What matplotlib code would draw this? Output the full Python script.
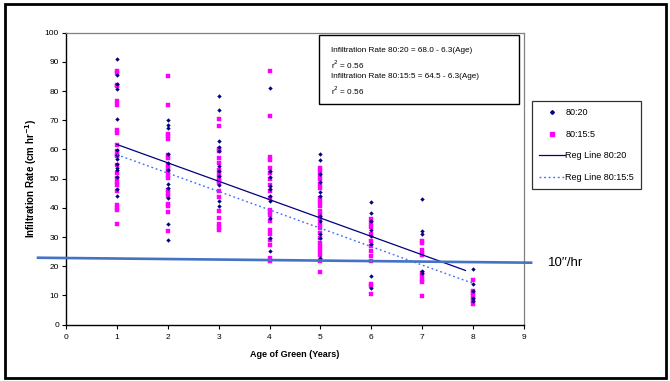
import matplotlib
matplotlib.use("Agg")
import matplotlib.pyplot as plt
from matplotlib.patches import Rectangle
from matplotlib.lines import Line2D
import numpy as np

plt.rcParams['font.family'] = ['Liberation Sans', 'DejaVu Sans']

ages = [1, 2, 3, 4, 5, 6, 7, 8]

# 80:20 observations per age
s8020 = {
    1: [91.1, 85.6, 82.5, 80.8, 70.5, 59.7, 58.2, 56.8, 55.1, 53.6, 52.8, 50.6, 46.6, 44.1],
    2: [69.9, 68.5, 67.4, 58.4, 55.4, 53.0, 48.0, 46.8, 43.4, 34.5, 29.1],
    3: [78.2, 73.6, 63.0, 60.7, 59.4, 54.2, 52.5, 50.8, 47.9, 42.2, 40.5],
    4: [81.0, 52.5, 50.5, 47.4, 46.6, 43.9, 42.5, 36.5, 29.7, 25.1],
    5: [58.4, 56.5, 51.6, 49.0, 45.4, 43.9, 37.1, 35.4, 31.0, 29.7, 22.8],
    6: [41.9, 38.2, 35.4, 32.5, 30.5, 27.7, 16.6, 12.6],
    7: [43.0, 32.0, 31.0, 18.5, 17.7],
    8: [19.2, 13.9, 11.4, 9.1, 8.2],
}
# 80:15:5 observations per age
s80155 = {
    1: [86.8, 86.2, 82.2, 81.6, 76.5, 75.3, 66.8, 65.6, 61.6, 59.4, 58.2, 57.6, 54.8, 52.0, 50.2,
        49.0, 47.9, 45.7, 41.1, 40.0, 39.4, 34.5],
    2: [85.3, 75.1, 65.3, 64.5, 63.7, 58.2, 57.1, 54.6, 53.7, 52.5, 51.4, 50.2, 46.2, 45.1, 43.9,
        41.3, 40.5, 38.6, 32.0],
    3: [70.5, 67.9, 60.3, 59.4, 57.1, 55.4, 53.1, 51.6, 50.2, 49.3, 48.5, 45.9, 43.6, 38.8, 36.5,
        34.5, 33.3, 32.5],
    4: [86.8, 71.3, 57.3, 56.5, 53.7, 52.0, 50.0, 47.9, 45.7, 43.4, 39.4, 38.6, 37.7, 35.4, 32.5,
        31.0, 29.1, 27.4, 22.8, 21.9],
    5: [53.7, 52.5, 51.1, 49.7, 48.2, 46.8, 43.4, 42.0, 40.5, 38.8, 37.4, 36.0, 34.5, 33.1, 31.4,
        29.7, 28.0, 26.5, 25.1, 23.7, 21.7, 18.0],
    6: [36.3, 34.8, 33.3, 31.0, 28.8, 26.8, 25.1, 23.4, 21.7, 13.9, 13.1, 10.6],
    7: [28.8, 28.0, 25.7, 24.5, 23.7, 17.7, 16.6, 15.4, 14.6, 9.7],
    8: [15.4, 11.6, 10.8, 10.0, 9.1, 8.2, 7.1],
}

# regression coefficients (intercept, slope)
reg_8020 = (68.0, -6.3)
reg_80155 = (64.5, -6.3)

# 10"/hr threshold line (x, y)
thr_x = [-0.55, 9.14]
thr_y = [22.9, 21.2]

x_ticks = list(range(0, 10))
y_ticks = list(range(0, 101, 10))

fig = plt.figure(figsize=(6.70, 3.81), dpi=100)
ax = fig.add_axes([66/670, 1 - 324.6/381, (524-66)/670, (324.6-32.6)/381])

navy = '#000080'
magenta = '#FF00FF'
dotblue = '#3d6dff'
dotstyle = (0, (1.3, 2.0))

for a in ages:
    ax.plot([a]*len(s80155[a]), s80155[a], linestyle='none', marker='s', ms=2.3,
            color=magenta, mec=magenta, mew=0.3, zorder=3)
for a in ages:
    ax.plot([a]*len(s8020[a]), s8020[a], linestyle='none', marker='D', ms=1.9,
            color=navy, mec=navy, mew=0.3, zorder=4)

xa = np.array(ages, dtype=float)
xa1 = xa.copy(); xa1[-1] = 7.85
ax.plot(xa1, reg_8020[0] + reg_8020[1]*xa1, color=navy, lw=0.9, zorder=5)
ax.plot(xa, reg_80155[0] + reg_80155[1]*xa, color=dotblue, lw=1.0,
        linestyle=dotstyle, zorder=5)

ax.plot(thr_x, thr_y, color='#4472C4', lw=1.9, clip_on=False, zorder=6)
fig.text(548/670, 1 - 263/381, '10\u2032\u2032/hr', fontsize=9.5, va='center', ha='left')

ax.set_xlim(0, 9)
ax.set_ylim(0, 100)
ax.set_xticks(x_ticks)
ax.set_yticks(y_ticks)
ax.tick_params(axis='both', labelsize=6, length=3, width=0.8, direction='out', pad=2)
ax.tick_params(axis='x', pad=4)
for s in ['top', 'right']:
    ax.spines[s].set_color('#808080')
    ax.spines[s].set_linewidth(0.9)
for s in ['left', 'bottom']:
    ax.spines[s].set_color('black')
    ax.spines[s].set_linewidth(1.0)

ax.set_xlabel('Age of Green (Years)', fontsize=6.5, fontweight='bold', labelpad=6)
ax.set_ylabel('Infiltration Rate (cm hr$^{\\mathbf{-1}}$)', fontsize=7, fontweight='bold', labelpad=4)

# equation box
eq_lines = ['Infiltration Rate 80:20 = 68.0 - 6.3(Age)', 'r$^2$ = 0.56',
            'Infiltration Rate 80:15:5 = 64.5 - 6.3(Age)', 'r$^2$ = 0.56']
fig.patches.append(Rectangle((319/670, 1 - 104/381), 200/670, 69/381, transform=fig.transFigure,
                             facecolor='white', edgecolor='black', lw=1.0, zorder=10))
for ln, yy in zip(eq_lines, [51, 64.5, 77, 90.5]):
    fig.text(331/670, 1 - yy/381, ln, fontsize=5.9, va='center', ha='left', zorder=11)

# legend
handles = [Line2D([], [], linestyle='none', marker='D', ms=1.9, color=navy),
           Line2D([], [], linestyle='none', marker='s', ms=2.3, color=magenta),
           Line2D([], [], color=navy, lw=0.9),
           Line2D([], [], color=dotblue, lw=1.0, linestyle=dotstyle)]
labels = ['80:20', '80:15:5', 'Reg Line 80:20', 'Reg Line 80:15:5']
leg = fig.legend(handles, labels, loc='upper left', bbox_to_anchor=(532/670, 1 - 101/381),
                 bbox_transform=fig.transFigure, fontsize=6.5, frameon=True, fancybox=False,
                 edgecolor='black', labelspacing=1.4, handlelength=2.8, handletextpad=0.1,
                 borderpad=0.8, borderaxespad=0)
leg.get_frame().set_linewidth(0.9)

# outer border
fig.patches.append(Rectangle((5/670, 3/381), 661/670, 374/381, transform=fig.transFigure,
                             facecolor='none', edgecolor='black', lw=2.0, zorder=20))

fig.savefig('out.png', dpi=100)
